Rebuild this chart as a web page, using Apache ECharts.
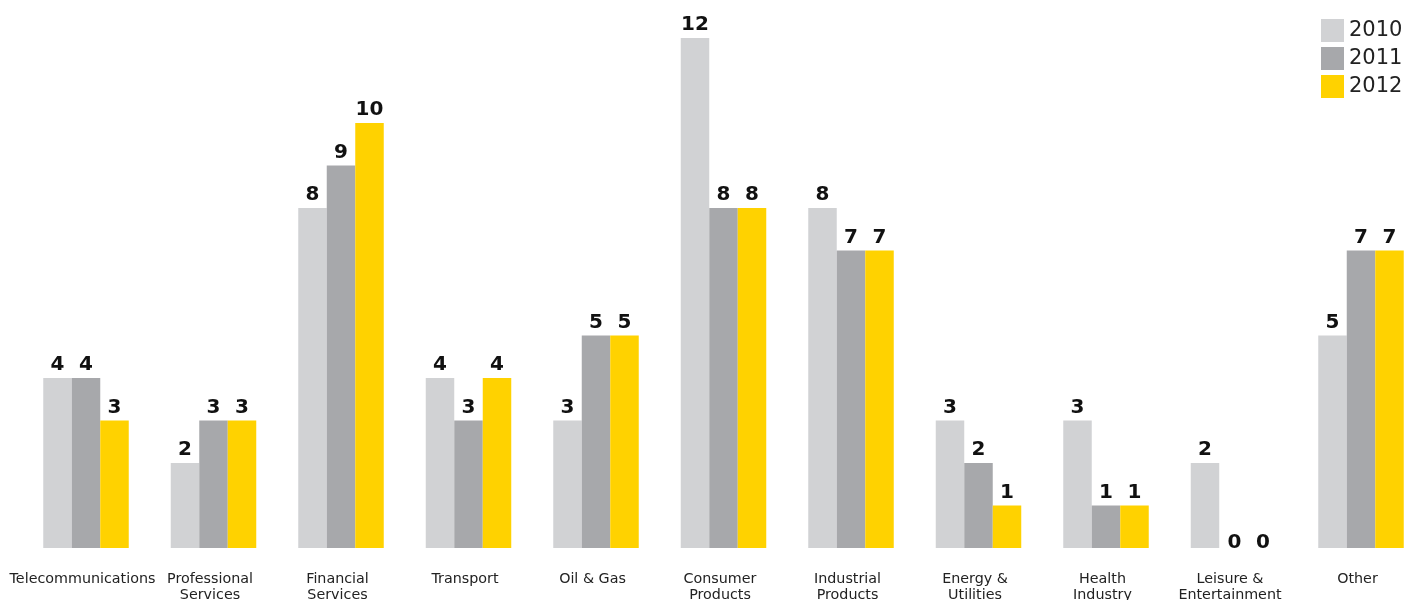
<!DOCTYPE html>
<html>
<head>
<meta charset="utf-8">
<script src="https://cdn.jsdelivr.net/npm/echarts@6/dist/echarts.min.js"></script>
<style>
  html, body { margin: 0; padding: 0; background: #fff; }
  #chart { width: 1406px; height: 600px; }
</style>
</head>
<body>
<div id="chart"></div>
<script>
const categories = [
  'Telecommunications', 'Professional\nServices', 'Financial\nServices', 'Transport',
  'Oil & Gas', 'Consumer\nProducts', 'Industrial\nProducts', 'Energy &\nUtilities',
  'Health\nIndustry', 'Leisure &\nEntertainment', 'Other'
];
const years = ['2010', '2011', '2012'];
const values2010 = [4, 2, 8, 4, 3, 12, 8, 3, 3, 2, 5];
const values2011 = [4, 3, 9, 3, 5, 8, 7, 2, 1, 0, 7];
const values2012 = [3, 3, 10, 4, 5, 8, 7, 1, 1, 0, 7];
const colors = ['#d1d2d4', '#a7a8ab', '#ffd200'];

const chart = echarts.init(document.getElementById('chart'));

// Zero values have no bar, so their label sits down on the baseline.
function toItems(data) {
  return data.map(v => v === 0
    ? { value: v, label: { offset: [1, 8] } }
    : v);
}

function makeSeries(name, data, color) {
  return {
    name: name,
    type: 'bar',
    data: toItems(data),
    barWidth: 28.5,
    barGap: '0%',
    itemStyle: { color: color },
    label: {
      show: true,
      position: 'top',
      distance: 3,
      color: '#111',
      fontFamily: 'DejaVu Sans',
      fontWeight: 'bold',
      fontSize: 20
    }
  };
}

chart.setOption({
  animation: false,
  backgroundColor: '#fff',
  grid: {
    left: 22.25, right: -18.75, top: 38, bottom: 52,
    containLabel: false, outerBoundsMode: 'none'
  },
  legend: {
    data: years,
    orient: 'vertical',
    left: 1316,
    top: 14,
    itemWidth: 23,
    itemHeight: 23,
    itemGap: 5,
    icon: 'rect',
    textStyle: { fontFamily: 'DejaVu Sans', fontSize: 21, color: '#222' }
  },
  xAxis: {
    type: 'category',
    data: categories,
    axisLine: { show: false },
    axisTick: { show: false },
    axisLabel: {
      interval: 0,
      margin: 23,
      padding: [0, 7, 0, 0],
      fontFamily: 'DejaVu Sans',
      fontSize: 14.3,
      lineHeight: 16,
      color: '#222'
    }
  },
  yAxis: {
    type: 'value',
    min: 0,
    max: 12,
    show: false
  },
  series: [
    makeSeries(years[0], values2010, colors[0]),
    makeSeries(years[1], values2011, colors[1]),
    makeSeries(years[2], values2012, colors[2])
  ]
});
</script>
</body>
</html>
